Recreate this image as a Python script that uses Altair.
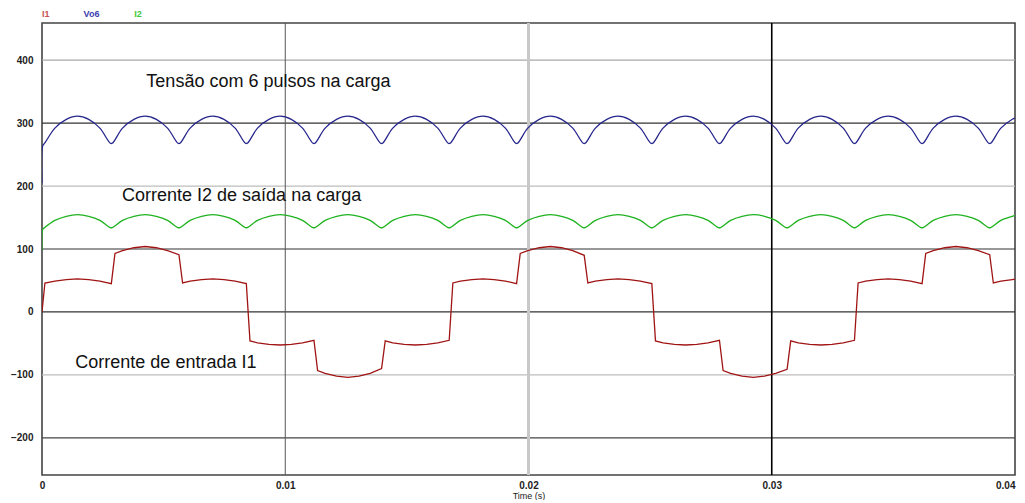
import altair as alt
import pandas as pd

# ---- data ----
t_ripple = [0.00000, 0.00003,
            0.00011, 0.00053, 0.00100, 0.00146, 0.00192, 0.00238, 0.00281,
            0.00289, 0.00331, 0.00378, 0.00424, 0.00470, 0.00516, 0.00559,
            0.00567, 0.00609, 0.00656, 0.00702, 0.00748, 0.00794, 0.00836,
            0.00844, 0.00886, 0.00933, 0.00979, 0.01025, 0.01071, 0.01114,
            0.01122, 0.01164, 0.01211, 0.01257, 0.01303, 0.01349, 0.01392,
            0.01400, 0.01442, 0.01489, 0.01535, 0.01581, 0.01627, 0.01670,
            0.01678, 0.01720, 0.01767, 0.01813, 0.01859, 0.01905, 0.01947,
            0.01955, 0.01997, 0.02044, 0.02090, 0.02136, 0.02182, 0.02225,
            0.02233, 0.02275, 0.02322, 0.02368, 0.02414, 0.02460, 0.02503,
            0.02511, 0.02553, 0.02600, 0.02646, 0.02692, 0.02738, 0.02781,
            0.02789, 0.02831, 0.02878, 0.02924, 0.02970, 0.03016, 0.03059,
            0.03067, 0.03109, 0.03156, 0.03202, 0.03248, 0.03294, 0.03336,
            0.03344, 0.03386, 0.03433, 0.03479, 0.03525, 0.03571, 0.03614,
            0.03622, 0.03664, 0.03711, 0.03757, 0.03803, 0.03849, 0.03892,
            0.03900, 0.03942, 0.03989, 0.04000]

vo6_vals = [205, 264,
            268, 292, 306, 311, 306, 292, 268,
            268, 292, 306, 311, 306, 292, 268,
            268, 292, 306, 311, 306, 292, 268,
            268, 292, 306, 311, 306, 292, 268,
            268, 292, 306, 311, 306, 292, 268,
            268, 292, 306, 311, 306, 292, 268,
            268, 292, 306, 311, 306, 292, 268,
            268, 292, 306, 311, 306, 292, 268,
            268, 292, 306, 311, 306, 292, 268,
            268, 292, 306, 311, 306, 292, 268,
            268, 292, 306, 311, 306, 292, 268,
            268, 292, 306, 311, 306, 292, 268,
            268, 292, 306, 311, 306, 292, 268,
            268, 292, 306, 311, 306, 292, 268,
            268, 292, 306, 308]

i2_vals = [99, 131,
           134, 145.5, 152, 154.5, 152, 145.5, 134,
           134, 145.5, 152, 154.5, 152, 145.5, 134,
           134, 145.5, 152, 154.5, 152, 145.5, 134,
           134, 145.5, 152, 154.5, 152, 145.5, 134,
           134, 145.5, 152, 154.5, 152, 145.5, 134,
           134, 145.5, 152, 154.5, 152, 145.5, 134,
           134, 145.5, 152, 154.5, 152, 145.5, 134,
           134, 145.5, 152, 154.5, 152, 145.5, 134,
           134, 145.5, 152, 154.5, 152, 145.5, 134,
           134, 145.5, 152, 154.5, 152, 145.5, 134,
           134, 145.5, 152, 154.5, 152, 145.5, 134,
           134, 145.5, 152, 154.5, 152, 145.5, 134,
           134, 145.5, 152, 154.5, 152, 145.5, 134,
           134, 145.5, 152, 154.5, 152, 145.5, 134,
           134, 145.5, 152, 153.5]

t_i1 = [0.00000, 0.00012, 0.00053, 0.00100, 0.00146, 0.00192, 0.00238, 0.00285,
        0.00300, 0.00331, 0.00378, 0.00424, 0.00470, 0.00516, 0.00563,
        0.00578, 0.00609, 0.00656, 0.00702, 0.00748, 0.00794, 0.00840,
        0.00855, 0.00886, 0.00933, 0.00979, 0.01025, 0.01071, 0.01118,
        0.01133, 0.01164, 0.01211, 0.01257, 0.01303, 0.01349, 0.01396,
        0.01411, 0.01442, 0.01489, 0.01535, 0.01581, 0.01627, 0.01674,
        0.01689, 0.01720, 0.01767, 0.01813, 0.01859, 0.01905, 0.01951,
        0.01966, 0.01997, 0.02044, 0.02090, 0.02136, 0.02182, 0.02229,
        0.02244, 0.02275, 0.02322, 0.02368, 0.02414, 0.02460, 0.02507,
        0.02522, 0.02553, 0.02600, 0.02646, 0.02692, 0.02738, 0.02785,
        0.02800, 0.02831, 0.02878, 0.02924, 0.02970, 0.03016, 0.03063,
        0.03078, 0.03109, 0.03156, 0.03202, 0.03248, 0.03294, 0.03340,
        0.03355, 0.03386, 0.03433, 0.03479, 0.03525, 0.03571, 0.03618,
        0.03633, 0.03664, 0.03711, 0.03757, 0.03803, 0.03849, 0.03896,
        0.03911, 0.03942, 0.03989, 0.04000]

i1_vals = [0, 46, 49, 51.5, 52.5, 51.5, 49, 45,
           93, 97.5, 102, 104, 102, 97.5, 91,
           46, 49, 51.5, 52.5, 51.5, 49, 45,
           -46, -49, -51.5, -52.5, -51.5, -49, -45,
           -93, -97.5, -102, -104, -102, -97.5, -90,
           -46, -49, -51.5, -52.5, -51.5, -49, -45,
           46, 49, 51.5, 52.5, 51.5, 49, 45,
           93, 97.5, 102, 104, 102, 97.5, 90,
           46, 49, 51.5, 52.5, 51.5, 49, 45,
           -46, -49, -51.5, -52.5, -51.5, -49, -45,
           -93, -97.5, -102, -104, -102, -97.5, -91,
           -46, -49, -51.5, -52.5, -51.5, -49, -45,
           46, 49, 51.5, 52.5, 51.5, 49, 45,
           93, 97.5, 102, 104, 102, 97.5, 91,
           46, 49, 51.5, 52]

series_names = ["I1", "Vo6", "I2"]
series_colors = ["#a01414", "#26268c", "#1fb21f"]
legend_colors = ["#c85050", "#3c3cb0", "#3cc83c"]
legend_t = [0.0000, 0.00171, 0.00379]
legend_v = [474, 474, 474]

x_ticks = [0, 0.01, 0.02, 0.03, 0.04]
y_ticks = [-200, -100, 0, 100, 200, 300, 400]
hgrid_colors = ["#444444", "#bdbdbd", "#333333", "#333333", "#bdbdbd", "#333333", "#a8a8a8"]
vgrid_vals = [0.01, 0.02, 0.03]
vgrid_colors = ["#555555", "#c8c8c8", "#000000"]
vgrid_widths = [1, 3, 1.6]

notes = ["Tensão com 6 pulsos na carga", "Corrente I2 de saída na carga", "Corrente de entrada I1"]
notes_t = [0.00429, 0.00329, 0.00137]
notes_v = [358, 176, -89]

# ---- tables ----
ripple_df = pd.concat([
    pd.DataFrame({"t": t_ripple, "v": vo6_vals, "s": "Vo6"}),
    pd.DataFrame({"t": t_ripple, "v": i2_vals, "s": "I2"}),
], ignore_index=True)
ripple_df["o"] = range(len(ripple_df))
i1_df = pd.DataFrame({"t": t_i1, "v": i1_vals, "s": "I1"})
i1_df["o"] = range(len(i1_df))

hgrid_df = pd.DataFrame({"v": y_ticks, "c": hgrid_colors})
vgrid_df = pd.DataFrame({"t": vgrid_vals, "c": vgrid_colors, "w": vgrid_widths})
notes_df = pd.DataFrame({"t": notes_t, "v": notes_v, "txt": notes})
legend_df = pd.DataFrame({"t": legend_t, "v": legend_v, "txt": series_names, "c": legend_colors})

FONT = "Liberation Sans"
xscale = alt.Scale(domain=[0, 0.04], nice=False, zero=False)
yscale = alt.Scale(domain=[-259, 459], nice=False, zero=False)

x_axis = alt.Axis(values=x_ticks, format="~g", grid=False, ticks=False, domain=False,
                  labelFont=FONT, labelFontSize=10, labelFontWeight="bold",
                  labelColor="#222", labelPadding=5, titleFont=FONT,
                  titleFontSize=9, titleFontWeight="normal", titleColor="#222",
                  titlePadding=1, labelFlush=False, labelOverlap=False,
                  labelAlign={"condition": {"test": "datum.value >= 0.04", "value": "right"},
                              "value": "center"})
y_axis = alt.Axis(values=y_ticks, format="d", grid=False, ticks=False, domain=False,
                  labelFont=FONT, labelFontSize=10, labelFontWeight="bold",
                  labelColor="#222", labelPadding=9)

X = alt.X("t:Q", scale=xscale, title="Time (s)", axis=x_axis)
Y = alt.Y("v:Q", scale=yscale, title=None, axis=y_axis)
color_enc = alt.Color("s:N", scale=alt.Scale(domain=series_names, range=series_colors), legend=None)

hgrid = alt.Chart(hgrid_df).mark_rule(strokeWidth=1.2).encode(
    y=Y, color=alt.Color("c:N", scale=None),
)

vgrid = alt.Chart(vgrid_df).mark_rule().encode(
    x=X, color=alt.Color("c:N", scale=None),
    strokeWidth=alt.StrokeWidth("w:Q", scale=None),
)

ripple = alt.Chart(ripple_df).mark_line(strokeWidth=1.3, clip=True, interpolate="catmull-rom").encode(
    x=X, y=Y, color=color_enc, order="o:Q",
)

i1_line = alt.Chart(i1_df).mark_line(strokeWidth=1.3, clip=True).encode(
    x=X, y=Y, color=color_enc, order="o:Q",
)

notes_layer = alt.Chart(notes_df).mark_text(
    align="left", baseline="alphabetic", font=FONT, fontSize=18, color="#111"
).encode(x=X, y=Y, text="txt:N")

legend_layer = alt.Chart(legend_df).mark_text(
    align="left", baseline="middle", font=FONT, fontSize=9, fontWeight="bold"
).encode(x=X, y=Y, text="txt:N", color=alt.Color("c:N", scale=None))

chart = alt.layer(hgrid, vgrid, ripple, i1_line, notes_layer, legend_layer).properties(
    width=973, height=452,
    autosize=alt.AutoSizeParams(type="none"),
    padding={"left": 34, "top": 15, "right": 2, "bottom": 25},
    background="white",
).configure_view(stroke="#444", strokeWidth=1.6)

chart.save("out.html", embed_options={"renderer": "svg", "actions": False})
